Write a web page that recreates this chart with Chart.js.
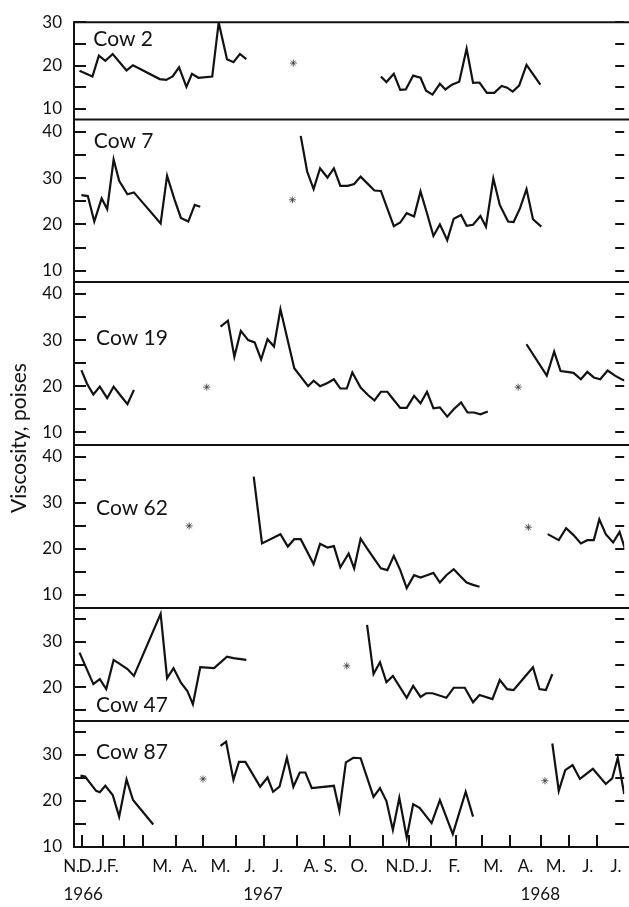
<!DOCTYPE html>
<html>
<head>
<meta charset="utf-8">
<script src="https://cdn.jsdelivr.net/npm/chart.js@4.4.1/dist/chart.umd.min.js"></script>
<style>
  html, body { margin: 0; padding: 0; background: #fff; }
  #wrap { position: relative; width: 629px; height: 907px; overflow: hidden; background: #fff; }
  #wrap canvas { position: absolute; left: 0; top: 0; }
</style>
</head>
<body>
<div id="wrap"></div>
<script>
// Sampling dates are counted in days along the time axis (day 0 = start of November 1966).
// Each cow's record is split into the separate runs of weekly samples.

const days2 = [[-3, 11, 18, 25, 33, 48, 55, 84, 91, 98, 105, 113, 119, 126, 141, 148, 157, 164, 171, 178],
               [324, 330, 338, 345, 351, 359, 367, 373, 380, 388, 394, 401, 409, 417, 424, 431, 439, 447, 455, 461, 467, 474, 482, 497]];
const visc2 = [[18.8, 17.5, 22.3, 21.1, 22.7, 18.9, 20.1, 16.9, 16.7, 17.5, 19.6, 15.1, 18.1, 17.2, 17.5, 30, 21.5, 20.8, 22.7, 21.5],
               [17.5, 16.2, 18.1, 14.4, 14.5, 17.7, 17.2, 14.2, 13.3, 15.8, 14.5, 15.6, 16.3, 23.9, 16.0, 16.1, 13.7, 13.7, 15.3, 14.9, 14.0, 15.4, 20.2, 15.6]];

const days7 = [[-1, 6, 13, 21, 27, 34, 40, 49, 56, 85, 92, 100, 107, 115, 122, 128],
               [237, 244, 251, 258, 266, 273, 280, 288, 295, 302, 309, 317, 324, 338, 345, 352, 360, 367, 374, 381,
                388, 396, 403, 411, 417, 424, 432, 438, 446, 453, 462, 468, 475, 482, 489, 498]];
const visc7 = [[26.3, 26.1, 20.6, 25.6, 23.3, 34.0, 29.4, 26.5, 26.9, 20.2, 30.5, 25.4, 21.4, 20.6, 24.2, 23.8],
               [39.1, 31.4, 27.6, 32.1, 30.1, 32.1, 28.3, 28.3, 28.7, 30.3, 28.9, 27.3, 27.2, 19.6, 20.4, 22.4, 21.7, 27.1, 22.4, 17.5,
                20.0, 16.6, 21.2, 22.0, 19.7, 19.9, 21.8, 19.5, 29.9, 24.2, 20.6, 20.5, 23.5, 27.6, 21.1, 19.5]];

const days19 = [[-1, 5, 12, 19, 27, 34, 41, 49, 56],
                [150, 158, 165, 172, 180, 187, 194, 201, 208, 215, 230, 245, 251, 258, 266, 273, 280, 287, 293, 302,
                 310, 317, 324, 331, 338, 345, 352, 360, 367, 374, 381, 388, 396, 403, 411, 418, 425, 432, 440],
                [482, 504, 512, 519, 526, 533, 541, 548, 555, 562, 570, 578, 585, 592]];
const visc19 = [[23.5, 20.6, 18.2, 19.9, 17.4, 19.9, 18.1, 16.1, 19.2],
                [32.9, 34.2, 26.4, 32.0, 30.0, 29.5, 25.8, 30.2, 28.6, 36.7, 23.9, 20.0, 21.2, 20.0, 20.7, 21.5, 19.5, 19.5, 23.0, 19.7,
                 18.1, 16.9, 18.8, 18.8, 17.0, 15.3, 15.3, 17.9, 16.3, 18.8, 15.2, 15.4, 13.4, 15.0, 16.5, 14.3, 14.3, 13.9, 14.5],
                [29.1, 22.3, 27.5, 23.3, 23.1, 22.9, 21.5, 23.1, 21.9, 21.5, 23.4, 22.3, 21.5, 21.0]];

const days62 = [[186, 195, 215, 223, 230, 237, 251, 258, 266, 273, 280, 289, 295, 302, 309, 317, 324, 331, 338, 345,
                 352, 360, 367, 374, 381, 388, 395, 403, 410, 417, 424, 431],
                [505, 517, 525, 533, 541, 548, 555, 561, 568, 576, 583, 589]];
const visc62 = [[35.7, 21.2, 23.2, 20.5, 22.1, 22.1, 16.7, 21.1, 20.3, 20.6, 16.0, 19.0, 15.8, 22.2, 20.1, 17.8, 15.8, 15.4, 18.5, 15.4,
                 11.5, 14.3, 13.8, 14.3, 14.8, 12.7, 14.3, 15.6, 14.1, 12.7, 12.2, 11.8],
                [23.2, 21.9, 24.5, 23.0, 21.2, 21.9, 21.9, 26.4, 23.2, 21.4, 23.7, 19.9]];

const days47 = [[-3, 12, 19, 26, 34, 41, 49, 56, 85, 92, 99, 107, 114, 120, 128, 143, 157, 164, 178],
                [309, 316, 323, 330, 337, 352, 359, 367, 373, 380, 395, 403, 415, 424, 431, 445, 453, 461, 468, 489, 496, 503, 510]];
const visc47 = [[27.6, 20.7, 21.8, 19.6, 26.0, 25.1, 24.0, 22.5, 36.1, 22.0, 24.2, 21.0, 19.2, 16.3, 24.4, 24.2, 26.7, 26.4, 26.0],
                [33.7, 22.9, 25.5, 21.1, 22.5, 17.7, 20.3, 17.9, 18.7, 18.7, 17.7, 19.9, 19.9, 16.7, 18.3, 17.4, 21.6, 19.6, 19.4, 24.4, 19.6, 19.4, 22.9]];

const days87 = [[-2, 3, 15, 19, 25, 33, 40, 48, 55, 77],
                [150, 156, 164, 170, 177, 193, 201, 207, 214, 222, 229, 236, 242, 249, 273, 279, 286, 294, 302, 316,
                 323, 330, 337, 344, 352, 359, 366, 379, 388, 402, 416, 424],
                [510, 517, 524, 532, 540, 554, 568, 575, 581, 588]];
const visc87 = [[25.5, 25.3, 22.2, 21.9, 23.3, 21.3, 16.6, 24.7, 20.2, 14.9],
                [32.0, 32.9, 24.6, 28.5, 28.5, 23.1, 25.1, 22.0, 23.1, 29.4, 23.1, 26.2, 26.2, 22.8, 23.3, 17.9, 28.4, 29.4, 29.3, 20.9,
                 22.8, 20.0, 13.7, 20.7, 12.1, 19.3, 18.5, 15.2, 20.2, 12.8, 22.0, 16.6],
                [32.5, 22.2, 26.7, 27.8, 24.8, 27.0, 23.7, 24.9, 29.4, 21.5]];

// Asterisks marking the breaks in each record: [day, viscosity]
const stars2 = [[229, 20.6]];
const stars7 = [[228, 25.3]];
const stars19 = [[135, 19.8], [473, 19.8]];
const stars62 = [[116, 25.0], [484, 24.7]];
const stars47 = [[287, 24.7]];
const stars87 = [[131, 24.8], [502, 24.4]];

// Axis text
const cowNames = ['Cow 2', 'Cow 7', 'Cow 19', 'Cow 62', 'Cow 47', 'Cow 87'];
const yTickValues = [[10, 15, 20, 25, 30],
                     [10, 15, 20, 25, 30, 35, 40],
                     [10, 15, 20, 25, 30, 35, 40],
                     [10, 15, 20, 25, 30, 35, 40],
                     [15, 20, 25, 30, 35],
                     [10, 15, 20, 25, 30, 35]];
const monthTickDays = [0, 22, 45, 66, 102, 131, 167, 197, 233, 262, 290, 326, 354, 378, 405, 434, 464, 498, 528, 558];
const monthLabels = ['N.', 'D.', 'J.', 'F.', 'M.', 'A.', 'M.', 'J.', 'J.', 'A.', 'S.', 'O.', 'N.', 'D.', 'J.', 'F.', 'M.', 'A.', 'M.', 'J.', 'J.'];
// day at which each month label starts (labels are set left-aligned)
const monthLabelDays = [-20.8, -4.2, 14.7, 26.5, 76, 108, 139, 176, 206, 240, 262, 291, 329, 347, 367.5, 397, 435, 472.5, 503, 542.5, 573];
const yearLabels = ['1966', '1967', '1968'];
const yearLabelDays = [1, 196, 497];
const yTitle = 'Viscosity, poises';

// Layout of the stacked panels
const DAY_MIN = -9, DAY_MAX = 588;
const panelEdges = [14, 119.5, 282, 445, 608, 721, 847];
const panelYMin = [7.55, 7.56, 7.25, 7.18, 12.61, 10];
const panelYMax = [30.05, 42.63, 42.6, 42.54, 37.39, 37.39];
const nameAt = [[12, 26.2], [12.5, 37.9], [15, 30.3], [15, 28.8], [15, 16.05], [15, 30.7]];

const W = 629, H = 907;
const INK = '#121212';
const FONT = 'Lato, "Open Sans", "DejaVu Sans", sans-serif';

const panelDays = [days2, days7, days19, days62, days47, days87];
const panelVisc = [visc2, visc7, visc19, visc62, visc47, visc87];
const panelStars = [stars2, stars7, stars19, stars62, stars47, stars87];

// Panel frame: rules, left axis line, inward ticks on both sides and the cow name
const framePlugin = {
  id: 'frame',
  afterDraw(chart, args, opts) {
    const { ctx, chartArea: a, scales: { x, y } } = chart;
    ctx.save();
    ctx.strokeStyle = INK;
    ctx.lineWidth = 2;
    ctx.lineCap = 'butt';
    ctx.beginPath();
    if (opts.first) { ctx.moveTo(a.left - 1, a.top); ctx.lineTo(W, a.top); }
    ctx.moveTo(a.left - 1, a.bottom); ctx.lineTo(W, a.bottom);
    ctx.moveTo(a.left, a.top); ctx.lineTo(a.left, a.bottom);
    y.ticks.forEach(t => {
      const py = Math.round(y.getPixelForValue(t.value));
      ctx.moveTo(a.left, py); ctx.lineTo(a.left + 12, py);
      ctx.moveTo(a.right - 9, py); ctx.lineTo(a.right, py);
    });
    ctx.stroke();
    ctx.fillStyle = INK;
    ctx.font = '21px ' + FONT;
    ctx.textAlign = 'left';
    ctx.textBaseline = 'middle';
    ctx.fillText(opts.name, x.getPixelForValue(opts.at[0]), y.getPixelForValue(opts.at[1]));
    ctx.restore();
  }
};

// Time axis under the last panel, plus the shared y title
const timeAxisPlugin = {
  id: 'timeAxis',
  afterDraw(chart) {
    const { ctx, chartArea: a, scales: { x } } = chart;
    ctx.save();
    ctx.strokeStyle = INK;
    ctx.lineWidth = 2;
    ctx.beginPath();
    monthTickDays.forEach(d => {
      const px = Math.round(x.getPixelForValue(d));
      ctx.moveTo(px, a.bottom); ctx.lineTo(px, a.bottom - 12);
    });
    ctx.stroke();
    ctx.fillStyle = INK;
    ctx.font = '17px ' + FONT;
    ctx.textBaseline = 'middle';
    ctx.textAlign = 'left';
    monthLabels.forEach((t, i) => ctx.fillText(t, x.getPixelForValue(monthLabelDays[i]), a.bottom + 20));
    ctx.textAlign = 'center';
    yearLabels.forEach((t, i) => ctx.fillText(t, x.getPixelForValue(yearLabelDays[i]), a.bottom + 48));
    ctx.font = '21px ' + FONT;
    ctx.translate(19, 438);
    ctx.rotate(-Math.PI / 2);
    ctx.fillText(yTitle, 0, 0);
    ctx.restore();
  }
};

function buildPanel(i) {
  const canvas = document.createElement('canvas');
  canvas.width = W; canvas.height = H;
  canvas.style.width = W + 'px'; canvas.style.height = H + 'px';
  document.getElementById('wrap').appendChild(canvas);

  const datasets = panelDays[i].map((d, k) => ({
    data: d.map((day, j) => ({ x: day, y: panelVisc[i][k][j] })),
    borderColor: INK,
    borderWidth: 2.2,
    pointRadius: 0,
    tension: 0,
    fill: false,
    borderJoinStyle: 'miter'
  }));
  datasets.push({
    data: panelStars[i].map(s => ({ x: s[0], y: s[1] })),
    showLine: false,
    pointStyle: 'star',
    pointRadius: 3.5,
    pointBorderWidth: 0.8,
    pointBorderColor: '#333',
    pointBackgroundColor: '#333'
  });

  const last = i === cowNames.length - 1;
  const ticks = yTickValues[i];

  new Chart(canvas, {
    type: 'line',
    data: { datasets },
    options: {
      responsive: false,
      animation: false,
      devicePixelRatio: 1,
      events: [],
      layout: { padding: { top: panelEdges[i], bottom: H - panelEdges[i + 1], left: 0, right: 0 } },
      plugins: {
        legend: { display: false },
        tooltip: { enabled: false },
        frame: { name: cowNames[i], at: nameAt[i], first: i === 0 }
      },
      scales: {
        x: { type: 'linear', min: DAY_MIN, max: DAY_MAX, display: false },
        y: {
          type: 'linear',
          position: 'left',
          min: panelYMin[i],
          max: panelYMax[i],
          afterBuildTicks: s => { s.ticks = ticks.map(v => ({ value: v })); },
          afterFit: s => { s.width = 74; },
          grid: { display: false, drawTicks: false },
          border: { display: false },
          ticks: {
            autoSkip: false,
            padding: 12,
            color: INK,
            font: { family: FONT, size: 17 },
            callback: v => (v % 10 === 0 ? String(v) : '')
          }
        }
      }
    },
    plugins: last ? [framePlugin, timeAxisPlugin] : [framePlugin]
  });
}

function drawAll() {
  for (let i = 0; i < cowNames.length; i++) buildPanel(i);
}

if (document.fonts && document.fonts.load) {
  Promise.all([document.fonts.load('17px Lato'), document.fonts.load('21px Lato')])
    .then(drawAll, drawAll);
} else {
  drawAll();
}
</script>
</body>
</html>
